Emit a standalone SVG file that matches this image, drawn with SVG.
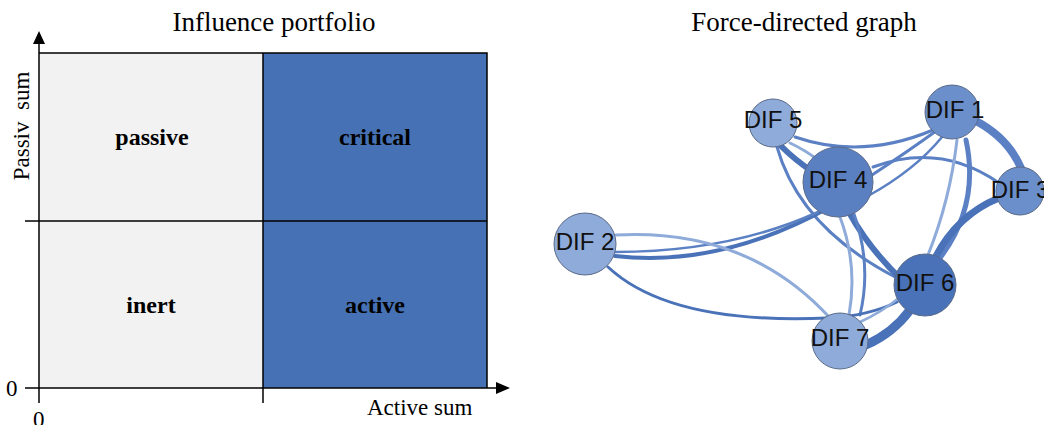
<svg xmlns="http://www.w3.org/2000/svg" width="1044" height="425" viewBox="0 0 1044 425">
<style>
.serif{font-family:"Liberation Serif","Times New Roman",serif;fill:#000}
.title{font-size:27px}
.q{font-size:24px;font-weight:bold;text-anchor:middle}
.ax{font-size:23px}
.ln{stroke:#000;stroke-width:1.5;fill:none}
.e{fill:none;stroke-linecap:round}
.d{stroke:#4a72b8}
.m{stroke:#5b80c4}
.l{stroke:#8fabd9}
.node circle{stroke:#5a6a88;stroke-width:1}
.node text{font-family:"Liberation Sans",Arial,sans-serif;font-size:24px;text-anchor:middle;fill:#111}
</style>
<rect width="1044" height="425" fill="#fff"/>

<g id="portfolio">
<text class="serif title" x="274" y="31" text-anchor="middle">Influence portfolio</text>
<rect x="39" y="53" width="224" height="335" fill="#f2f2f2"/>
<rect x="263" y="53" width="224" height="335" fill="#4672b5"/>
<path class="ln" d="M39,53 H487 V388"/>
<path class="ln" d="M25,221 H487"/>
<path class="ln" d="M263,53 V403"/>
<path class="ln" d="M39,43 V403"/>
<path class="ln" d="M25,388 H497"/>
<polygon points="39,31 33,44 45,44" fill="#000"/>
<polygon points="510,388 496,382 496,394" fill="#000"/>
<text class="serif q" x="152" y="145">passive</text>
<text class="serif q" x="375" y="145">critical</text>
<text class="serif q" x="151" y="313">inert</text>
<text class="serif q" x="375" y="313">active</text>
<text class="serif ax" transform="translate(29,126) rotate(-90)" text-anchor="middle" xml:space="preserve">Passiv  sum</text>
<text class="serif ax" x="367" y="415">Active sum</text>
<text class="serif ax" x="6" y="396">0</text>
<text class="serif ax" x="33" y="427">0</text>
</g>

<text class="serif title" x="804" y="31" text-anchor="middle">Force-directed graph</text>

<g id="connectors">
<path class="e m" stroke-width="3" d="M795,137 Q862,160 933,130"/>
<path class="e d" stroke-width="6" d="M781,146 Q795,160 813,172"/>
<path class="e l" stroke-width="3" d="M790,143 Q805,150 818,160"/>
<path class="e m" stroke-width="3" d="M777,147 Q800,228 897,278"/>
<path class="e m" stroke-width="3" d="M872,175 Q910,150 936,131"/>
<path class="e m" stroke-width="2.5" d="M868,196 Q915,170 942,137"/>
<path class="e m" stroke-width="3" d="M873,167 Q940,142 999,183"/>
<path class="e m" stroke-width="8" d="M976,121 Q1008,138 1021,168"/>
<path class="e l" stroke-width="3" d="M957,140 Q950,200 928,255"/>
<path class="e m" stroke-width="5" d="M966,140 Q980,205 940,258"/>
<path class="e d" stroke-width="7" d="M999,198 Q957,215 935,258"/>
<path class="e d" stroke-width="6" d="M850,214 Q870,250 903,281"/>
<path class="e l" stroke-width="3" d="M840,217 Q858,265 849,315"/>
<path class="e m" stroke-width="3" d="M854,214 Q872,265 860,315"/>
<path class="e d" stroke-width="4" d="M615,256 Q720,268 830,207"/>
<path class="e m" stroke-width="2.5" d="M615,252 Q730,252 818,212"/>
<path class="e l" stroke-width="3" d="M616,235 Q748,228 830,318"/>
<path class="e d" stroke-width="3" d="M608,267 Q670,325 828,318 Q868,316 897,302"/>
<path class="e d" stroke-width="9" d="M866,345 Q893,333 910,310"/>
<path class="e l" stroke-width="2.5" d="M860,322 Q882,312 900,297"/>
</g>

<g id="n5" class="node"><circle cx="773" cy="123" r="24" fill="#8fabd9"/><text x="773" y="128">DIF 5</text></g>
<g id="n1" class="node"><circle cx="952" cy="112" r="27" fill="#6b8fcb"/><text x="955" y="118">DIF 1</text></g>
<g id="n4" class="node"><circle cx="838" cy="182" r="35" fill="#5b80c2"/><text x="838" y="188">DIF 4</text></g>
<g id="n3" class="node"><circle cx="1020" cy="191" r="24" fill="#6b8fcb"/><text x="1020" y="198">DIF 3</text></g>
<g id="n2" class="node"><circle cx="585" cy="244" r="31" fill="#8fabd9"/><text x="585" y="250">DIF 2</text></g>
<g id="n6" class="node"><circle cx="925" cy="285" r="31" fill="#4a72b8"/><text x="925" y="291">DIF 6</text></g>
<g id="n7" class="node"><circle cx="840" cy="341" r="28" fill="#8fabd9"/><text x="840" y="346">DIF 7</text></g>
</svg>
